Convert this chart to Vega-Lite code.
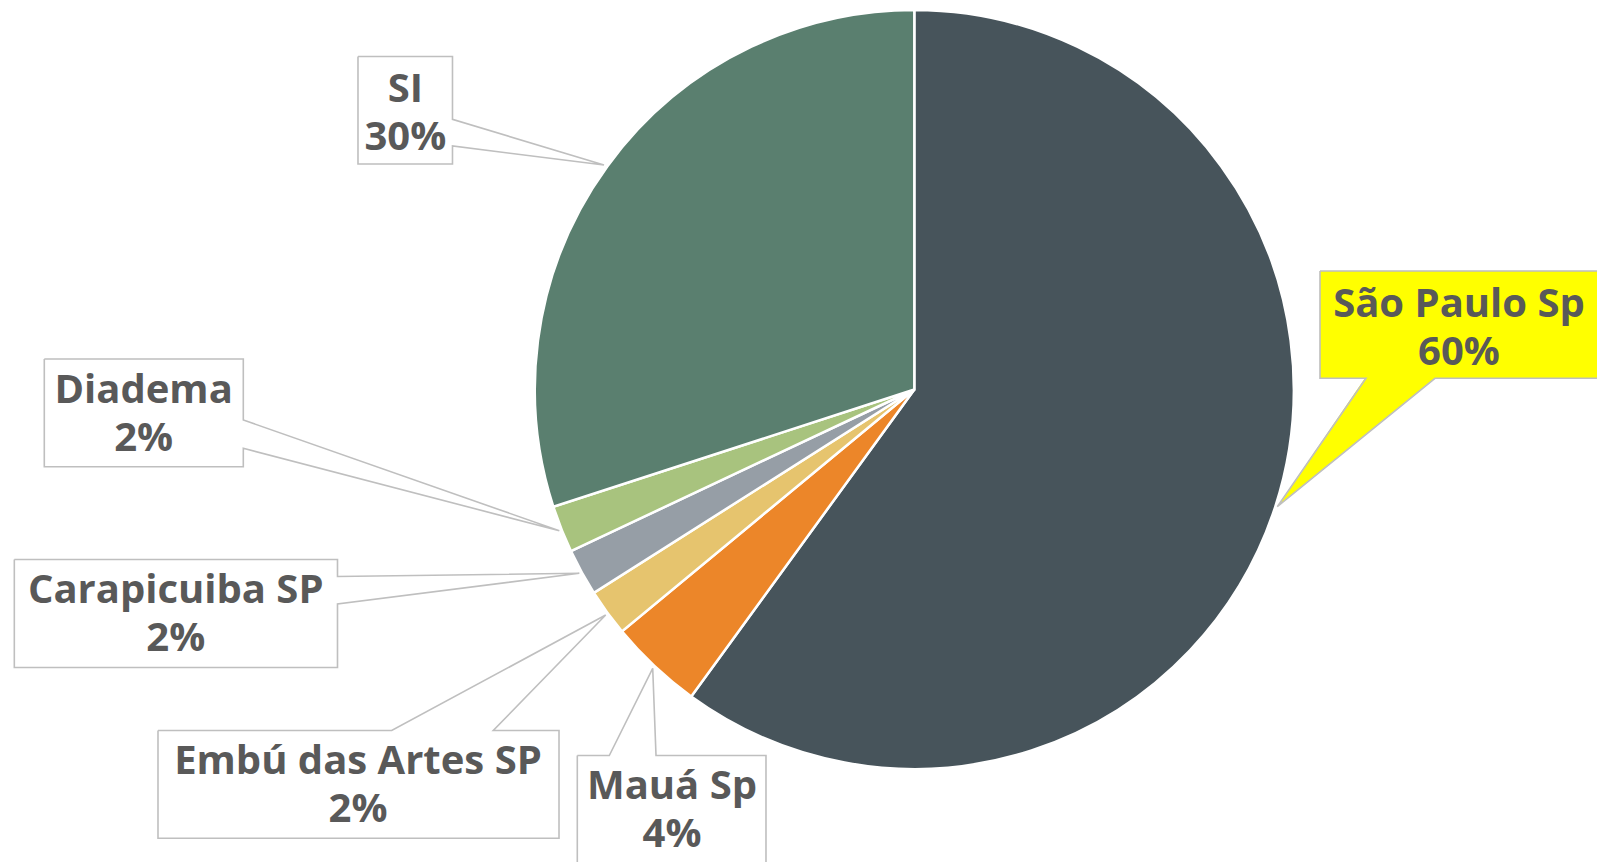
{
  "$schema": "https://vega.github.io/schema/vega-lite/v6.json",
  "width": 1597,
  "height": 862,
  "padding": 0,
  "autosize": {"type": "none"},
  "background": "white",
  "config": {"view": {"stroke": null}},
  "datasets": {
    "slices": [
      {"municipio": "São Paulo Sp", "valor": 60, "ord": 1},
      {"municipio": "Mauá Sp", "valor": 4, "ord": 2},
      {"municipio": "Embú das Artes SP", "valor": 2, "ord": 3},
      {"municipio": "Carapicuiba SP", "valor": 2, "ord": 4},
      {"municipio": "Diadema", "valor": 2, "ord": 5},
      {"municipio": "SI", "valor": 30, "ord": 6}
    ],
    "labels": [
      {"municipio": "São Paulo Sp", "rotulo": "São Paulo Sp\n60%", "u": 1.4353, "v": 0.1916},
      {"municipio": "Mauá Sp", "rotulo": "Mauá Sp\n4%", "u": -0.6385, "v": -1.0798},
      {"municipio": "Embú das Artes SP", "rotulo": "Embú das Artes SP\n2%", "u": -1.4659, "v": -1.0132},
      {"municipio": "Carapicuiba SP", "rotulo": "Carapicuiba SP\n2%", "u": -1.9462, "v": -0.5626},
      {"municipio": "Diadema", "rotulo": "Diadema\n2%", "u": -2.0308, "v": -0.0364},
      {"municipio": "SI", "rotulo": "SI\n30%", "u": -1.3412, "v": 0.7584}
    ],
    "boxes": [
      {"municipio": "São Paulo Sp", "u1": 1.069, "u2": 1.8069, "v1": 0.0295, "v2": 0.3123},
      {"municipio": "Mauá Sp", "u1": -0.888, "u2": -0.3908, "v1": -1.2661, "v2": -0.9644},
      {"municipio": "Embú das Artes SP", "u1": -1.9929, "u2": -0.9362, "v1": -1.1826, "v2": -0.8986},
      {"municipio": "Carapicuiba SP", "u1": -2.3715, "u2": -1.5199, "v1": -0.7325, "v2": -0.448},
      {"municipio": "Diadema", "u1": -2.2925, "u2": -1.7681, "v1": -0.2034, "v2": 0.0804},
      {"municipio": "SI", "u1": -1.4659, "u2": -1.2169, "v1": 0.5942, "v2": 0.8775}
    ],
    "pointer": [
      {"municipio": "São Paulo Sp", "u": 0.9565, "v": -0.3088, "v2": -0.3088},
      {"municipio": "São Paulo Sp", "u": 1.1903, "v": -0.1186, "v2": 0.034},
      {"municipio": "São Paulo Sp", "u": 1.3721, "v": 0.0295, "v2": 0.034}
    ],
    "borders": [
      {"municipio": "São Paulo Sp", "i": 1, "u": 1.069, "v": 0.3123},
      {"municipio": "São Paulo Sp", "i": 2, "u": 1.8069, "v": 0.3123},
      {"municipio": "São Paulo Sp", "i": 3, "u": 1.8069, "v": 0.0295},
      {"municipio": "São Paulo Sp", "i": 4, "u": 1.3721, "v": 0.0295},
      {"municipio": "São Paulo Sp", "i": 5, "u": 0.9565, "v": -0.3088},
      {"municipio": "São Paulo Sp", "i": 6, "u": 1.1903, "v": 0.0295},
      {"municipio": "São Paulo Sp", "i": 7, "u": 1.069, "v": 0.0295},
      {"municipio": "São Paulo Sp", "i": 8, "u": 1.069, "v": 0.3123},

      {"municipio": "Mauá Sp", "i": 1, "u": -0.888, "v": -0.9644},
      {"municipio": "Mauá Sp", "i": 2, "u": -0.8037, "v": -0.9644},
      {"municipio": "Mauá Sp", "i": 3, "u": -0.6893, "v": -0.7347},
      {"municipio": "Mauá Sp", "i": 4, "u": -0.6806, "v": -0.9644},
      {"municipio": "Mauá Sp", "i": 5, "u": -0.3908, "v": -0.9644},
      {"municipio": "Mauá Sp", "i": 6, "u": -0.3908, "v": -1.2661},
      {"municipio": "Mauá Sp", "i": 7, "u": -0.888, "v": -1.2661},
      {"municipio": "Mauá Sp", "i": 8, "u": -0.888, "v": -0.9644},

      {"municipio": "Embú das Artes SP", "i": 1, "u": -1.9929, "v": -0.8986},
      {"municipio": "Embú das Artes SP", "i": 2, "u": -1.3771, "v": -0.8986},
      {"municipio": "Embú das Artes SP", "i": 3, "u": -0.8132, "v": -0.5942},
      {"municipio": "Embú das Artes SP", "i": 4, "u": -1.1094, "v": -0.8986},
      {"municipio": "Embú das Artes SP", "i": 5, "u": -0.9362, "v": -0.8986},
      {"municipio": "Embú das Artes SP", "i": 6, "u": -0.9362, "v": -1.1826},
      {"municipio": "Embú das Artes SP", "i": 7, "u": -1.9929, "v": -1.1826},
      {"municipio": "Embú das Artes SP", "i": 8, "u": -1.9929, "v": -0.8986},

      {"municipio": "Carapicuiba SP", "i": 1, "u": -2.3715, "v": -0.448},
      {"municipio": "Carapicuiba SP", "i": 2, "u": -1.5199, "v": -0.448},
      {"municipio": "Carapicuiba SP", "i": 3, "u": -1.5199, "v": -0.4928},
      {"municipio": "Carapicuiba SP", "i": 4, "u": -0.8827, "v": -0.4843},
      {"municipio": "Carapicuiba SP", "i": 5, "u": -1.5199, "v": -0.5652},
      {"municipio": "Carapicuiba SP", "i": 6, "u": -1.5199, "v": -0.7325},
      {"municipio": "Carapicuiba SP", "i": 7, "u": -2.3715, "v": -0.7325},
      {"municipio": "Carapicuiba SP", "i": 8, "u": -2.3715, "v": -0.448},

      {"municipio": "Diadema", "i": 1, "u": -2.2925, "v": 0.0804},
      {"municipio": "Diadema", "i": 2, "u": -1.7681, "v": 0.0804},
      {"municipio": "Diadema", "i": 3, "u": -1.7681, "v": -0.0804},
      {"municipio": "Diadema", "i": 4, "u": -0.9354, "v": -0.3721},
      {"municipio": "Diadema", "i": 5, "u": -1.7681, "v": -0.1549},
      {"municipio": "Diadema", "i": 6, "u": -1.7681, "v": -0.2034},
      {"municipio": "Diadema", "i": 7, "u": -2.2925, "v": -0.2034},
      {"municipio": "Diadema", "i": 8, "u": -2.2925, "v": 0.0804},

      {"municipio": "SI", "i": 1, "u": -1.4659, "v": 0.8775},
      {"municipio": "SI", "i": 2, "u": -1.2169, "v": 0.8775},
      {"municipio": "SI", "i": 3, "u": -1.2169, "v": 0.712},
      {"municipio": "SI", "i": 4, "u": -0.8177, "v": 0.5916},
      {"municipio": "SI", "i": 5, "u": -1.2169, "v": 0.6416},
      {"municipio": "SI", "i": 6, "u": -1.2169, "v": 0.5942},
      {"municipio": "SI", "i": 7, "u": -1.4659, "v": 0.5942},
      {"municipio": "SI", "i": 8, "u": -1.4659, "v": 0.8775}
    ]
  },
  "layer": [
    {
      "data": {"name": "slices"},
      "mark": {"type": "arc", "outerRadius": 379.5, "stroke": "white", "strokeWidth": 2.5},
      "encoding": {
        "theta": {"field": "valor", "type": "quantitative", "stack": true},
        "order": {"field": "ord", "type": "quantitative"},
        "color": {
          "field": "municipio",
          "type": "nominal",
          "legend": null,
          "scale": {
            "domain": ["São Paulo Sp", "Mauá Sp", "Embú das Artes SP", "Carapicuiba SP", "Diadema", "SI"],
            "range": ["#47545B", "#EC8629", "#E6C46E", "#969EA6", "#A8C37E", "#5A7F6F"]
          }
        },
        "x": {"datum": 0, "type": "quantitative", "axis": null, "scale": {"domain": [-2.40922, 1.79895], "nice": false, "zero": false}},
        "y": {"datum": 0, "type": "quantitative", "axis": null, "scale": {"domain": [-1.24506, 1.02635], "nice": false, "zero": false}}
      }
    },
    {
      "data": {"name": "boxes"},
      "mark": {"type": "rect", "strokeWidth": 0},
      "encoding": {
        "x": {"field": "u1", "type": "quantitative", "axis": null, "scale": {"domain": [-2.40922, 1.79895], "nice": false, "zero": false}},
        "x2": {"field": "u2"},
        "y": {"field": "v1", "type": "quantitative", "axis": null, "scale": {"domain": [-1.24506, 1.02635], "nice": false, "zero": false}},
        "y2": {"field": "v2"},
        "fill": {
          "condition": {"test": "datum.municipio === 'São Paulo Sp'", "value": "#FFFF00"},
          "value": "#FFFFFF"
        }
      }
    },
    {
      "data": {"name": "pointer"},
      "mark": {"type": "area", "color": "#FFFF00", "interpolate": "linear"},
      "encoding": {
        "x": {"field": "u", "type": "quantitative", "axis": null, "scale": {"domain": [-2.40922, 1.79895], "nice": false, "zero": false}},
        "y": {"field": "v", "type": "quantitative", "axis": null, "stack": null, "scale": {"domain": [-1.24506, 1.02635], "nice": false, "zero": false}},
        "y2": {"field": "v2"}
      }
    },
    {
      "data": {"name": "borders"},
      "mark": {"type": "line", "color": "#BFBFBF", "strokeWidth": 1.6, "strokeJoin": "miter"},
      "encoding": {
        "x": {"field": "u", "type": "quantitative", "axis": null, "scale": {"domain": [-2.40922, 1.79895], "nice": false, "zero": false}},
        "y": {"field": "v", "type": "quantitative", "axis": null, "scale": {"domain": [-1.24506, 1.02635], "nice": false, "zero": false}},
        "detail": {"field": "municipio", "type": "nominal"},
        "order": {"field": "i", "type": "quantitative"}
      }
    },
    {
      "data": {"name": "labels"},
      "mark": {
        "type": "text",
        "font": "Open Sans",
        "fontWeight": "bold",
        "fontSize": 40,
        "color": "#595959",
        "align": "center",
        "baseline": "alphabetic",
        "lineBreak": "\n",
        "lineHeight": 48
      },
      "encoding": {
        "x": {"field": "u", "type": "quantitative", "axis": null, "scale": {"domain": [-2.40922, 1.79895], "nice": false, "zero": false}},
        "y": {"field": "v", "type": "quantitative", "axis": null, "scale": {"domain": [-1.24506, 1.02635], "nice": false, "zero": false}},
        "text": {"field": "rotulo", "type": "nominal"}
      }
    }
  ]
}
